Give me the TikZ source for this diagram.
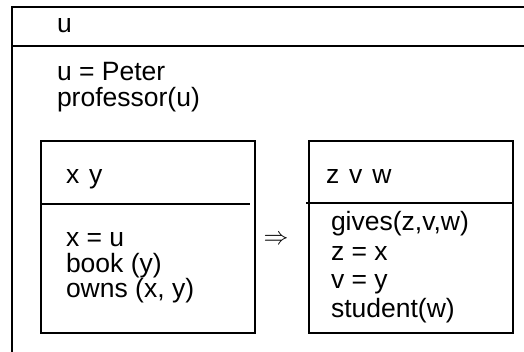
\documentclass[tikz,border=0pt]{standalone}
\usepackage{fontspec}
\setmainfont{Liberation Sans}
\begin{document}
\begin{tikzpicture}[x=1pt, y=-1pt, line width=2pt,
    every node/.style={anchor=base west, inner sep=0pt, font=\fontsize{26.5}{30}\selectfont}]
    \useasboundingbox (0,0) rectangle (524,351);
    \clip (0,0) rectangle (524,351);

    % Outer box (runs on past the right and bottom edges)
    \draw (12,7) rectangle (540,370);
    \draw (12,46) -- (540,46);
    \node (u) at (56,32) {u};
    \node (peter) at (56,80) {u = Peter};
    \node (prof) at (56,106) {professor(u)};

    % Left box
    \draw (41,141) rectangle (255,333);
    \draw (41,204) -- (250,204);
    \node (xy) at (65,183) {x\hspace{10pt}y};
    \node (xu) at (65,246) {x = u};
    \node (book) at (65,272) {book (y)};
    \node (owns) at (65,297) {owns (x, y)};

    % Implication
    \node[anchor=center] (impl) at (276,240) {$\Rightarrow$};

    % Right box
    \draw (309,141) rectangle (513,333);
    \draw (306,203) -- (513,203);
    \node (zvw) at (325,183) {z\hspace{10pt}v\hspace{10pt}w};
    \node (gives) at (330,230) {gives(z,v,w)};
    \node (zx) at (330,260) {z = x};
    \node (vy) at (330,288) {v = y};
    \node (student) at (330,317) {student(w)};
\end{tikzpicture}
\end{document}
